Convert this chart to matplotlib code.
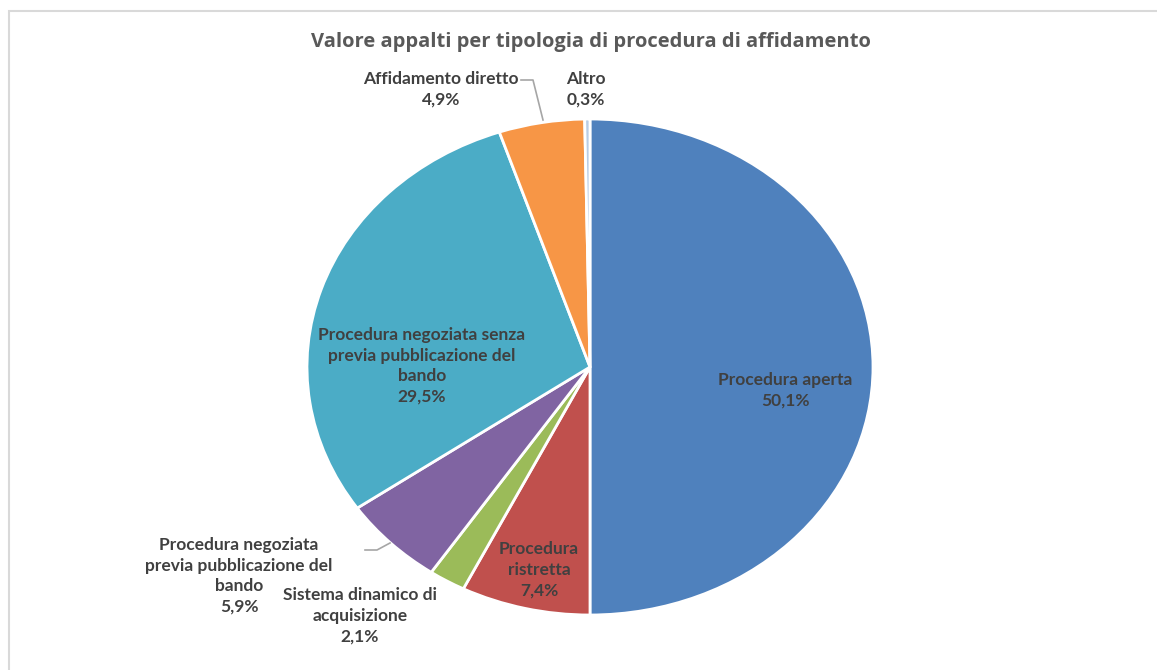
import matplotlib
matplotlib.use("Agg")
import matplotlib.pyplot as plt
from matplotlib.patches import Rectangle

labels = ["Procedura aperta", "Procedura\nristretta", "Sistema dinamico di\nacquisizione",
          "Procedura negoziata\nprevia pubblicazione del\nbando",
          "Procedura negoziata senza\nprevia pubblicazione del\nbando",
          "Affidamento diretto", "Altro"]
values = [50.1, 7.4, 2.1, 5.9, 29.5, 4.9, 0.3]
colors = ["#4F81BD", "#C0504D", "#9BBB59", "#8064A2", "#4BACC6", "#F79646", "#B9CDE5"]

# label centres in pixels (layout only)
label_px = [(785, 390), (539, 570), (360, 616), (239, 576), (422, 366), (441, 89), (586, 89)]
line_step = 20.5

W, H = 1157, 670
cx, cy, rx, ry = 590, 367, 283, 248

fig = plt.figure(figsize=(W / 100, H / 100), dpi=100)
fig.patch.set_facecolor("white")

ax = fig.add_axes([(cx - rx) / W, 1 - (cy + ry) / H, 2 * rx / W, 2 * ry / H])
wedges, _ = ax.pie(values, colors=colors, startangle=90, counterclock=False,
                   wedgeprops=dict(edgecolor="white", linewidth=2))
ax.set_aspect("auto")
ax.set_xlim(-1, 1)
ax.set_ylim(-1, 1)
ax.axis("off")


def px(x, y):
    return (x - cx) / rx, (cy - y) / ry


# one text per line so the short lines do not take the box of the long ones
for lab, val, (x, y) in zip(labels, values, label_px):
    lines = lab.split("\n") + [f"{val:.1f}".replace(".", ",") + "%"]
    y0 = y - line_step * (len(lines) - 1) / 2
    for i, ln in enumerate(lines):
        ax.text(*px(x, y0 + i * line_step), ln, ha="center", va="center", fontsize=12.5,
                fontweight="bold", family="Lato", color="#404040", clip_on=False)

# leader lines
for pts in [[(521, 80), (533, 80), (543, 120)], [(365, 550), (377, 550), (390, 543)]]:
    xs, ys = zip(*[px(a, b) for a, b in pts])
    ax.plot(xs, ys, color="#A6A6A6", lw=1.2, clip_on=False)

fig.text(591 / W, 1 - 42 / H, "Valore appalti per tipologia di procedura di affidamento",
         ha="center", va="center", fontsize=14.5, fontweight="bold", family="Open Sans",
         color="#595959")

fig.patches.append(Rectangle((9 / W, -0.1), 1.1, 1 - 11 / H + 0.1, transform=fig.transFigure,
                             fill=False, edgecolor="#D9D9D9", lw=1.5))

fig.savefig("out.png", dpi=100)
